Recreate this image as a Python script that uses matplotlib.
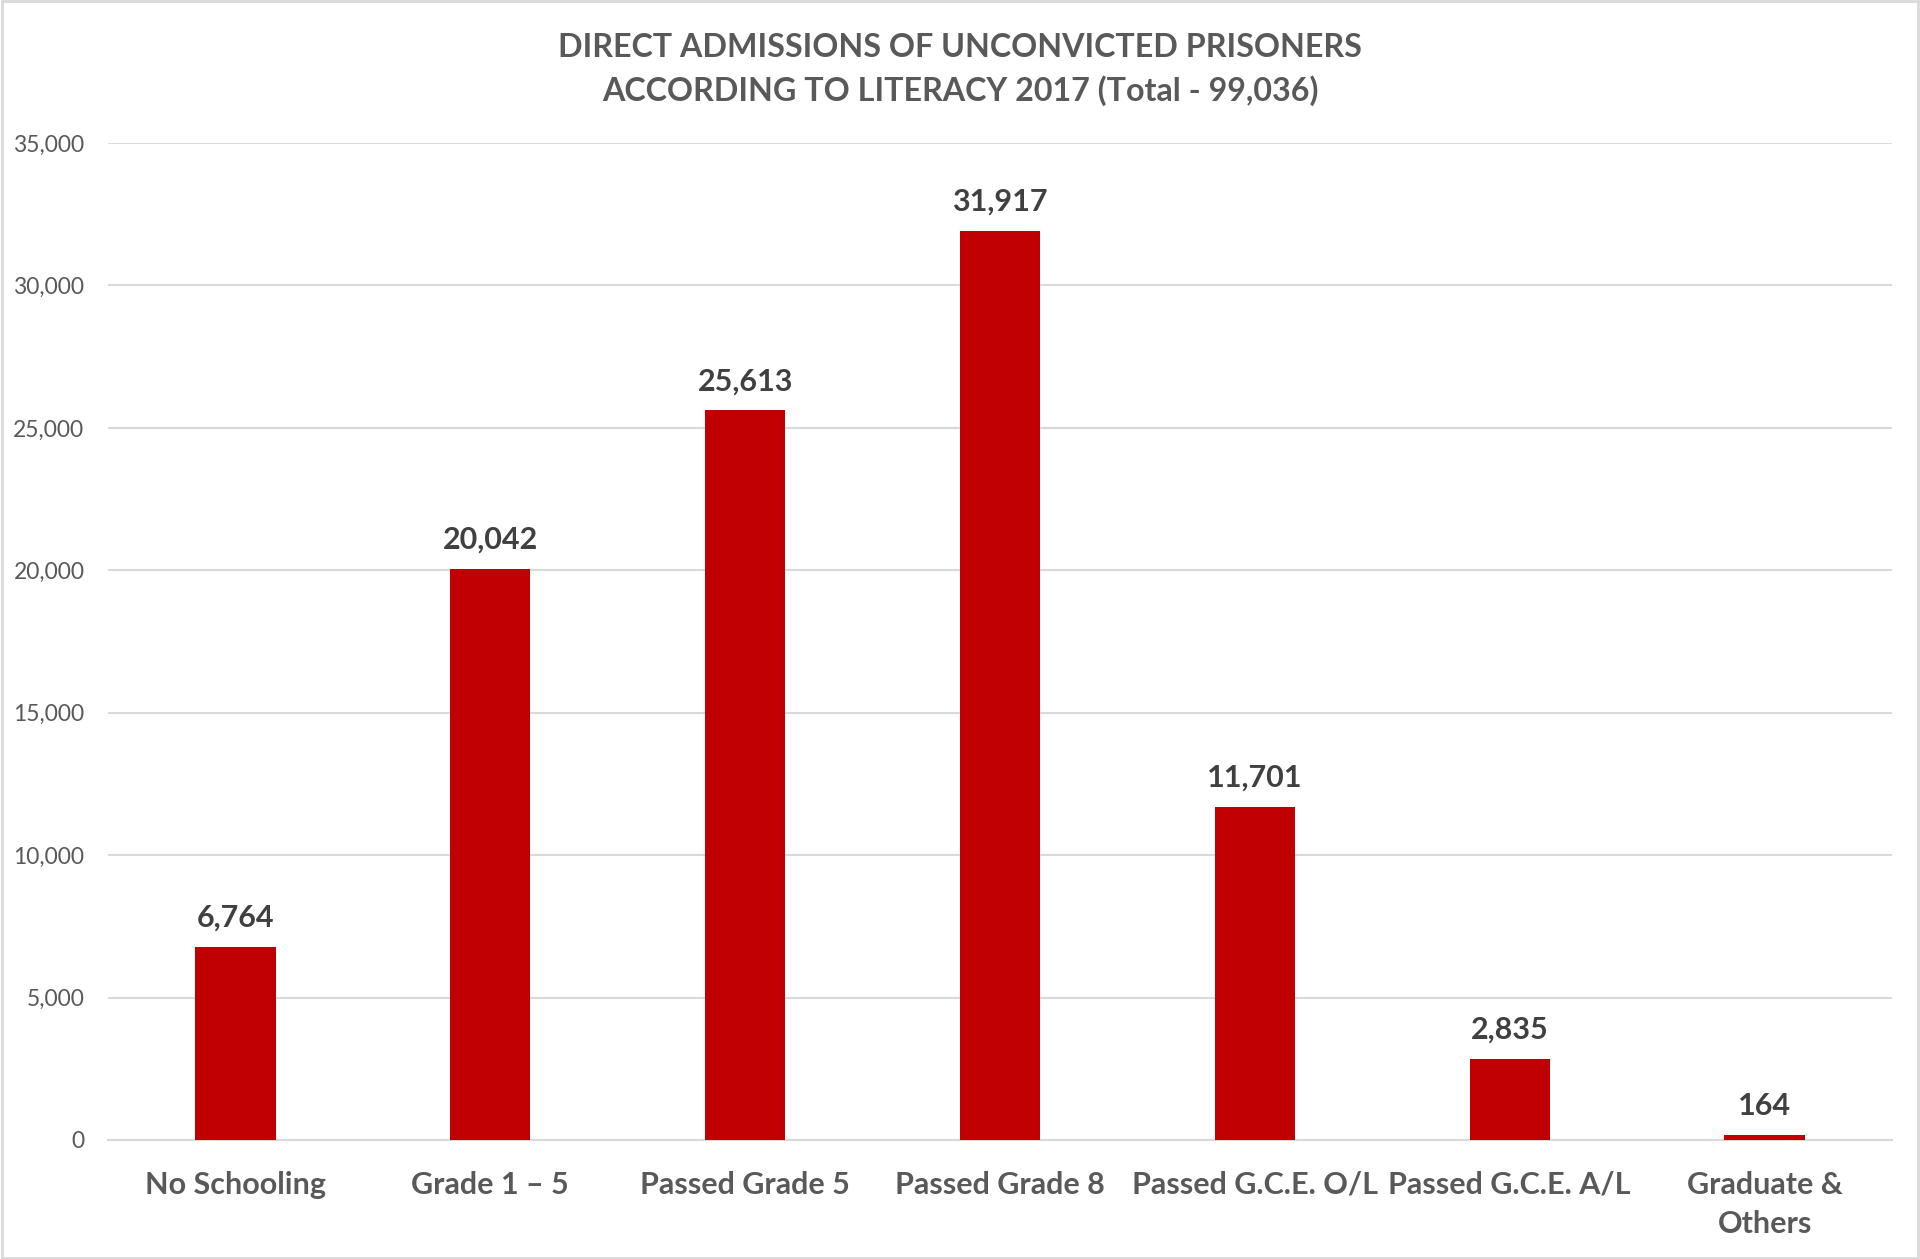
import matplotlib
matplotlib.use("Agg")
import matplotlib.pyplot as plt
from matplotlib.ticker import FuncFormatter
import numpy as np

plt.rcParams['font.family'] = ['Lato', 'DejaVu Sans']

categories = ["No Schooling", "Grade 1 \u2013 5", "Passed Grade 5", "Passed Grade 8",
              "Passed G.C.E. O/L", "Passed G.C.E. A/L", "Graduate &\nOthers"]
admissions = [6764, 20042, 25613, 31917, 11701, 2835, 164]
y_ticks = [0, 5000, 10000, 15000, 20000, 25000, 30000, 35000]

bar_color = "#C00000"
grid_color = "#D9D9D9"
text_grey = "#595959"
label_grey = "#404040"

fig = plt.figure(figsize=(19.2, 12.59), dpi=100)
ax = fig.add_axes([108 / 1920, 1 - 1140 / 1259, (1892 - 108) / 1920, (1140 - 143) / 1259])

x = np.arange(len(categories))
bars = ax.bar(x, admissions, width=0.315, color=bar_color, zorder=3)

for xi, v in zip(x, admissions):
    ax.annotate(f"{v:,}", (xi, v), xytext=(0, 11), textcoords="offset points",
                ha="center", va="bottom", fontsize=22, fontweight="bold", color=label_grey)

ax.set_xlim(-0.5, len(categories) - 0.5)
ax.set_ylim(0, 35000)
ax.set_yticks(y_ticks)
ax.yaxis.set_major_formatter(FuncFormatter(lambda v, p: f"{int(v):,}"))
ax.set_xticks(x)
ax.set_xticklabels(categories, fontsize=22, fontweight="bold", color=text_grey, linespacing=1.5)
ax.tick_params(axis="y", length=0, pad=17, labelsize=16.5, labelcolor=text_grey)
ax.tick_params(axis="x", length=0, pad=22)

ax.grid(axis="y", color=grid_color, linewidth=1.5, zorder=0)
for s in ["top", "right", "left"]:
    ax.spines[s].set_visible(False)
ax.spines["bottom"].set_color(grid_color)
ax.spines["bottom"].set_linewidth(1.5)

fig.text(0.5, 1 - 33 / 1259, "DIRECT ADMISSIONS OF UNCONVICTED PRISONERS\nACCORDING TO LITERACY 2017 (Total - 99,036)",
         ha="center", va="top", fontsize=23.2, fontweight="bold", color=text_grey, linespacing=1.5)

# thin frame around the whole chart
fig.patches.append(plt.Rectangle((0.001, 0.001), 0.998, 0.998, transform=fig.transFigure,
                                 fill=False, edgecolor=grid_color, linewidth=2))

fig.savefig("out.png", dpi=100, facecolor="white")
